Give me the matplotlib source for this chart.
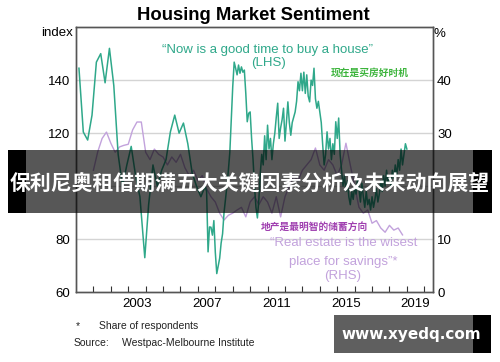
import numpy as np
import matplotlib
matplotlib.use("Agg")
import matplotlib.pyplot as plt
from matplotlib.patches import Rectangle

plt.rcParams['font.family'] = ['Liberation Sans', 'Noto Sans CJK SC', 'DejaVu Sans']

# "Now is a good time to buy a house" index (LHS), quarterly then monthly
teal_q_years = [2000.17, 2000.42, 2000.67, 2000.92, 2001.17, 2001.42, 2001.67, 2001.92,
                2002.17, 2002.42, 2002.67, 2002.92, 2003.17, 2003.42, 2003.67, 2003.95,
                2004.17, 2004.42, 2004.67, 2004.92, 2005.17, 2005.42, 2005.67, 2005.92,
                2006.17, 2006.42, 2006.67, 2006.92, 2007.17, 2007.42]
teal_q_vals = [144.5, 120.4, 117.4, 126.8, 146.8, 150.0, 139.0, 152.0,
               138.0, 112.0, 100.0, 108.0, 115.0, 104.0, 96.0, 73.0,
               93.0, 108.0, 100.0, 106.0, 110.0, 120.5, 126.8, 120.0,
               123.8, 116.0, 105.0, 100.0, 96.0, 100.0]
teal_m_start = 2007.5
teal_m_vals = [
    98, 75.2, 84.6, 84.5, 81.5, 87,                                               # 2007 H2
    75, 67, 70, 72.8, 78.5, 82, 90, 95, 100, 106, 112.8, 125,                     # 2008
    137.5, 146.8, 144.5, 142, 145.7, 142.6, 145, 143, 143.8, 135, 124.3, 127.5,   # 2009
    128, 118, 110, 100, 92, 88, 95, 105, 112, 108, 119, 110,                      # 2010
    123, 114, 118, 110, 116, 120, 126, 131.3, 118, 122, 125, 129.4,               # 2011
    117, 124, 131.8, 124, 119.2, 124, 126, 128, 132, 139.4, 136, 142.6,           # 2012
    136, 143, 135, 142, 134, 131.8, 140, 138, 144.5, 133, 129.4, 132,             # 2013
    128, 124, 115.5, 108, 112, 120.5, 114, 118, 110, 116, 112, 124.3,             # 2014
    118, 125.7, 112, 106, 100, 104, 98, 102, 96, 93, 98, 95,                      # 2015
    100, 97, 103, 99, 94, 101, 96, 92, 98, 93, 95, 91,                            # 2016
    96, 92, 95, 99, 94, 97, 102, 98, 104, 100, 106, 101,                          # 2017
    104, 100, 106, 103, 108, 104, 110, 106, 114, 108, 112, 116,                   # 2018
    114,                                                                          # 2019
]

# "Real estate is the wisest place for savings" share, % (RHS), quarterly
purple_years = [2001.0 + 0.25 * i for i in range(72)]
purple_vals = [23, 26.5, 29, 30.2, 28.1, 26.4, 27.4, 27.7, 27.9, 30.6, 32.1, 32.1,
               26.4, 25, 27, 26, 25.5, 24, 25.5, 24.5, 26, 23.5, 22, 23,
               21, 22, 19.5, 18, 17, 14.9, 13.6, 14.5, 14.9, 15.5, 16, 14.2,
               17, 18, 16.5, 18, 17, 14.9, 18, 14.2, 18, 20, 22, 21,
               23, 24, 25, 27.2, 24, 23, 25, 24, 22, 24, 28.1, 24,
               20, 16, 14.9, 15.5, 13, 13.5, 12.1, 11.3, 12.6, 11.7, 12.1, 10.8]

year_ticks = list(range(2001, 2021))
year_labels = [2003, 2007, 2011, 2015, 2019]
left_ticks = [60, 80, 100, 120, 140]
left_labels = ['60', '80', '', '120', '140']      # 100 sits under the banner
right_ticks = [0, 10, 20, 30, 40]
right_labels = ['0', '10', '', '30', '40']        # 20 sits under the banner

teal = '#2fa88a'
lilac = '#c2a2dc'

fig = plt.figure(figsize=(5.0, 3.62), dpi=100)
ax = fig.add_axes([0.152, 0.193, 0.714, 0.732])
ax2 = ax.twinx()

teal_years = teal_q_years + [teal_m_start + i / 12 for i in range(len(teal_m_vals))]
teal_vals = teal_q_vals + teal_m_vals

ax2.plot(purple_years, purple_vals, color=lilac, lw=1.0, zorder=2)
ax.plot(teal_years, teal_vals, color=teal, lw=1.1, zorder=3)
ax.set_zorder(ax2.get_zorder() + 1)
ax.patch.set_visible(False)

ax.set_xlim(2000.0, 2020.5)
ax.set_ylim(60, 160)
ax2.set_ylim(0, 50)
ax.set_yticks(left_ticks)
ax.set_yticklabels(left_labels)
ax2.set_yticks(right_ticks)
ax2.set_yticklabels(right_labels)
for v in left_ticks[1:]:
    ax2.axhline((v - 60) / 2, color='#d4d4d4', lw=1.0, zorder=0)

ax.set_xticks(year_ticks)
ax.set_xticklabels([])
ax.set_xticks([y + 0.5 for y in year_labels], minor=True)
ax.set_xticklabels([str(y) for y in year_labels], minor=True)
ax.tick_params(axis='x', which='major', direction='in', length=4, color='#333333')
ax.tick_params(axis='x', which='minor', length=0, labelsize=9.5, pad=4)
ax.tick_params(axis='y', length=0, labelsize=9.5, pad=4)
ax2.tick_params(axis='y', length=0, labelsize=9.5, pad=3)
for a in (ax, ax2):
    for s in a.spines.values():
        s.set_color('#555555')
        s.set_linewidth(1.0)

fig.text(0.506, 0.958, 'Housing Market Sentiment', ha='center', va='center',
         fontsize=13.3, fontweight='bold')
fig.text(0.146, 0.909, 'index', ha='right', va='center', fontsize=9.5)
fig.text(0.868, 0.906, '%', ha='left', va='center', fontsize=9.5)

fig.text(0.536, 0.862, '\u201cNow is a good time to buy a house\u201d', ha='center', va='center',
         fontsize=9.5, color=teal)
fig.text(0.536, 0.826, '(LHS)', ha='center', va='center', fontsize=9.5, color=teal)
fig.text(0.740, 0.798, '现在是买房好时机', ha='center', va='center', fontsize=7,
         fontweight='bold', color='#3cb43c')

fig.text(0.628, 0.373, '地产是最明智的储蓄方向', ha='center', va='center', fontsize=7,
         fontweight='bold', color='#a040b0')
fig.text(0.688, 0.329, '\u201cReal estate is the wisest', ha='center', va='center',
         fontsize=9.5, color=lilac)
fig.text(0.686, 0.276, 'place for savings\u201d*', ha='center', va='center',
         fontsize=9.5, color=lilac)
fig.text(0.686, 0.238, '(RHS)', ha='center', va='center', fontsize=9.5, color=lilac)

fig.text(0.152, 0.099, '*', ha='left', va='center', fontsize=7.5, color='#222222')
fig.text(0.198, 0.099, 'Share of respondents', ha='left', va='center', fontsize=7.5, color='#222222')
fig.text(0.148, 0.052, 'Source:', ha='left', va='center', fontsize=7.5, color='#222222')
fig.text(0.244, 0.052, 'Westpac-Melbourne Institute', ha='left', va='center', fontsize=7.5,
         color='#222222')

# overlay banner
fig.add_artist(Rectangle((0.016, 1 - 213 / 362), 0.968, 63 / 362, transform=fig.transFigure,
                         facecolor='black', alpha=0.66, edgecolor='none', zorder=10))
fig.add_artist(Rectangle((0.016, 1 - 213 / 362), 0.036, 63 / 362, transform=fig.transFigure,
                         facecolor='black', edgecolor='none', zorder=11))
fig.add_artist(Rectangle((0.946, 1 - 213 / 362), 0.038, 63 / 362, transform=fig.transFigure,
                         facecolor='black', edgecolor='none', zorder=11))
fig.text(0.5, 1 - 183 / 362, '保利尼奥租借期满五大关键因素分析及未来动向展望', ha='center',
         va='center', fontsize=15, fontweight='bold', color='white', zorder=12,
         family=['Noto Sans CJK SC', 'DejaVu Sans'])

# watermark
fig.add_artist(Rectangle((0.668, 1 - 353 / 362), 0.278, 38 / 362, transform=fig.transFigure,
                         facecolor='#5f5f5f', edgecolor='none', zorder=10))
fig.add_artist(Rectangle((0.946, 1 - 353 / 362), 0.036, 38 / 362, transform=fig.transFigure,
                         facecolor='black', edgecolor='none', zorder=11))
fig.text(0.822, 1 - 334 / 362, 'www.xyedq.com', ha='center', va='center', fontsize=11,
         fontweight='bold', color='white', zorder=12, family=['DejaVu Sans'])

fig.savefig('out.png', dpi=100)
